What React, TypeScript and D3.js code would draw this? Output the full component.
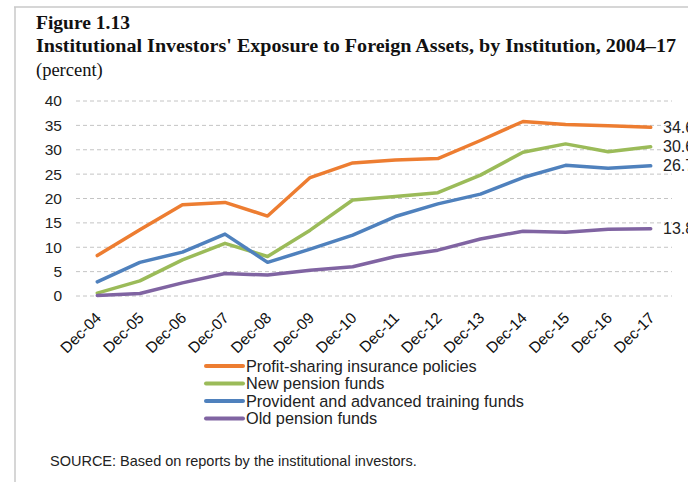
import React from "react";
import * as d3 from "d3";

const categories = ["Dec-04","Dec-05","Dec-06","Dec-07","Dec-08","Dec-09","Dec-10","Dec-11","Dec-12","Dec-13","Dec-14","Dec-15","Dec-16","Dec-17"];
const profitSharing = [8.3,13.6,18.7,19.2,16.4,24.3,27.3,27.9,28.2,31.9,35.8,35.2,34.9,34.6];
const newPension = [0.6,3.1,7.4,10.8,8.1,13.5,19.7,20.4,21.2,24.8,29.5,31.2,29.6,30.6];
const provident = [2.9,6.9,9.0,12.7,6.9,9.6,12.5,16.3,18.9,20.9,24.3,26.8,26.2,26.7];
const oldPension = [0.1,0.5,2.7,4.6,4.3,5.3,6.0,8.1,9.4,11.7,13.3,13.1,13.7,13.8];
const yTicks = [0,5,10,15,20,25,30,35,40];
const seriesNames = ["Profit-sharing insurance policies","New pension funds","Provident and advanced training funds","Old pension funds"];
const seriesColors = ["#ED7D31","#9BBB59","#4F81BD","#8064A2"];
const seriesValues = [profitSharing, newPension, provident, oldPension];

export default function App() {
  const W = 688, H = 482;
  const x = d3.scaleBand<string>().domain(categories).range([76, 672]).padding(0);
  const y = d3.scaleLinear().domain([0, 40]).range([296, 101]);
  const cx = (c: string) => (x(c) as number) + x.bandwidth() / 2;
  const line = d3.line<number>().x((_, i) => cx(categories[i])).y(v => y(v));
  const sans = "Arial, 'Liberation Sans', sans-serif";
  const serif = "'Times New Roman', 'Liberation Serif', serif";
  return (
    <svg width={W} height={H} style={{ position: "absolute", left: 0, top: 0, background: "#fff" }}>
      <rect x={0} y={0} width={W} height={H} fill="#fff" />
      <line x1={14} x2={W} y1={7} y2={7} stroke="#c8c8c8" strokeWidth={1.5} />
      <line x1={15} x2={15} y1={7} y2={H} stroke="#c8c8c8" strokeWidth={1.5} />
      <text x={36} y={29} fontFamily={serif} fontWeight="bold" fontSize={19.5} fill="#111">Figure 1.13</text>
      <text x={36} y={52} fontFamily={serif} fontWeight="bold" fontSize={19.5} fill="#111" textLength={640} lengthAdjust="spacingAndGlyphs">Institutional Investors' Exposure to Foreign Assets, by Institution, 2004–17</text>
      <text x={36} y={76} fontFamily={serif} fontSize={18.5} fill="#111">(percent)</text>
      {yTicks.map(t => (
        <g key={t}>
          <line x1={76} x2={672} y1={y(t)} y2={y(t)} stroke="#c4c4c4" strokeWidth={1} strokeDasharray="4,3" />
          <text x={62} y={y(t)} dy="0.35em" textAnchor="end" fontFamily={sans} fontSize={15.5} fill="#222">{t}</text>
        </g>
      ))}
      {categories.map(c => (
        <text key={c} transform={`translate(${cx(c) + 1},${315}) rotate(-45)`} textAnchor="end" dominantBaseline="central" fontFamily={sans} fontSize={15.5} fill="#111">{c}</text>
      ))}
      {seriesValues.map((vals, i) => (
        <path key={i} d={line(vals) || ""} fill="none" stroke={seriesColors[i]} strokeWidth={3.5} strokeLinejoin="round" strokeLinecap="round" />
      ))}
      {seriesValues.map((vals, i) => (
        <text key={i} x={663} y={y(vals[vals.length - 1])} dy="0.35em" fontFamily={sans} fontSize={16} fill="#222">{vals[vals.length - 1].toFixed(1)}</text>
      ))}
      {seriesNames.map((n, i) => (
        <g key={n}>
          <line x1={206} x2={243} y1={366 + i * 17.5} y2={366 + i * 17.5} stroke={seriesColors[i]} strokeWidth={4} strokeLinecap="round" />
          <text x={246} y={366 + i * 17.5} dy="0.35em" fontFamily={sans} fontSize={16.3} fill="#222">{n}</text>
        </g>
      ))}
      <text x={50} y={461} dy="0.35em" fontFamily={sans} fontSize={14.5} fill="#222">SOURCE: Based on reports by the institutional investors.</text>
    </svg>
  );
}
